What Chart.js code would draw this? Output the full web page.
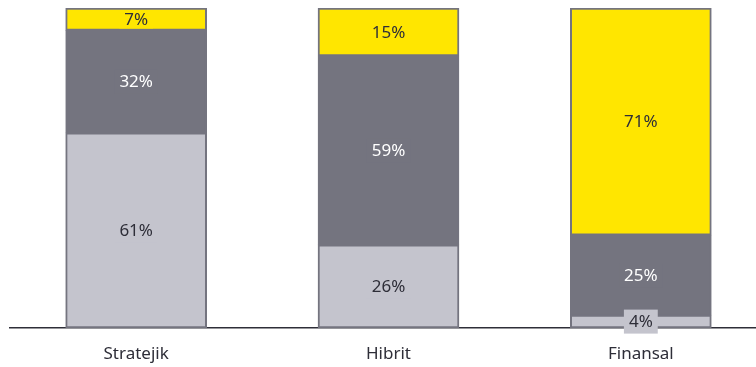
<!DOCTYPE html>
<html>
<head>
<meta charset="utf-8">
<script src="https://cdn.jsdelivr.net/npm/chart.js@4"></script>
<style>
  html, body { margin: 0; padding: 0; background: #fff; overflow: hidden; }
  #wrap { width: 767px; height: 367px; }
</style>
</head>
<body>
<div id="wrap"><canvas id="myChart" width="767" height="367"></canvas></div>
<script>
const categories = ['Stratejik', 'Hibrit', 'Finansal'];
const lightValues = [61, 26, 4];
const darkValues = [32, 59, 25];
const yellowValues = [7, 15, 71];

const colLight = '#c4c4cd';
const colDark = '#74747f';
const colYellow = '#ffe600';

// labels in the middle of each segment, with a box in the segment colour
const segLabels = {
  id: 'segLabels',
  afterDatasetsDraw(chart) {
    const ctx = chart.ctx;
    ctx.save();
    ctx.font = '17px "Noto Sans"';
    ctx.textAlign = 'center';
    ctx.textBaseline = 'middle';
    chart.data.datasets.forEach((ds, i) => {
      chart.getDatasetMeta(i).data.forEach((bar, j) => {
        const txt = ds.data[j] + '%';
        const y = (bar.y + bar.base) / 2;
        const segH = Math.abs(bar.base - bar.y);
        const w = ctx.measureText(txt).width + 10;
        const h = segH > 20 ? Math.min(24, segH - 4) : 24;
        ctx.fillStyle = ds.backgroundColor;
        ctx.fillRect(bar.x - w / 2, y - h / 2, w, h);
        ctx.fillStyle = ds.labelColor;
        ctx.fillText(txt, bar.x, y + 1);
      });
    });
    ctx.restore();
  }
};

const ctx = document.getElementById('myChart').getContext('2d');
const myChart = new Chart(ctx, {
  type: 'bar',
  data: {
    labels: categories,
    datasets: [
      { data: lightValues, backgroundColor: colLight, labelColor: '#2e2e38' },
      { data: darkValues, backgroundColor: colDark, labelColor: '#ffffff' },
      { data: yellowValues, backgroundColor: colYellow, labelColor: '#2e2e38' }
    ]
  },
  options: {
    responsive: false,
    animation: false,
    layout: { padding: { left: 10, right: 0, top: 8, bottom: 1 } },
    datasets: {
      bar: {
        barThickness: 141,
        borderWidth: 2,
        borderColor: colDark,
        borderSkipped: false
      }
    },
    plugins: {
      legend: { display: false },
      tooltip: { enabled: false }
    },
    scales: {
      x: {
        stacked: true,
        grid: { display: false },
        border: { display: true, color: '#2e2e38', width: 1.5 },
        ticks: { color: '#2e2e38', font: { family: 'Noto Sans', size: 17 }, padding: 8 },
        afterFit(scale) { scale.height = 38; }
      },
      y: {
        stacked: true,
        display: false,
        min: 0,
        max: 100
      }
    }
  },
  plugins: [segLabels]
});
</script>
</body>
</html>
